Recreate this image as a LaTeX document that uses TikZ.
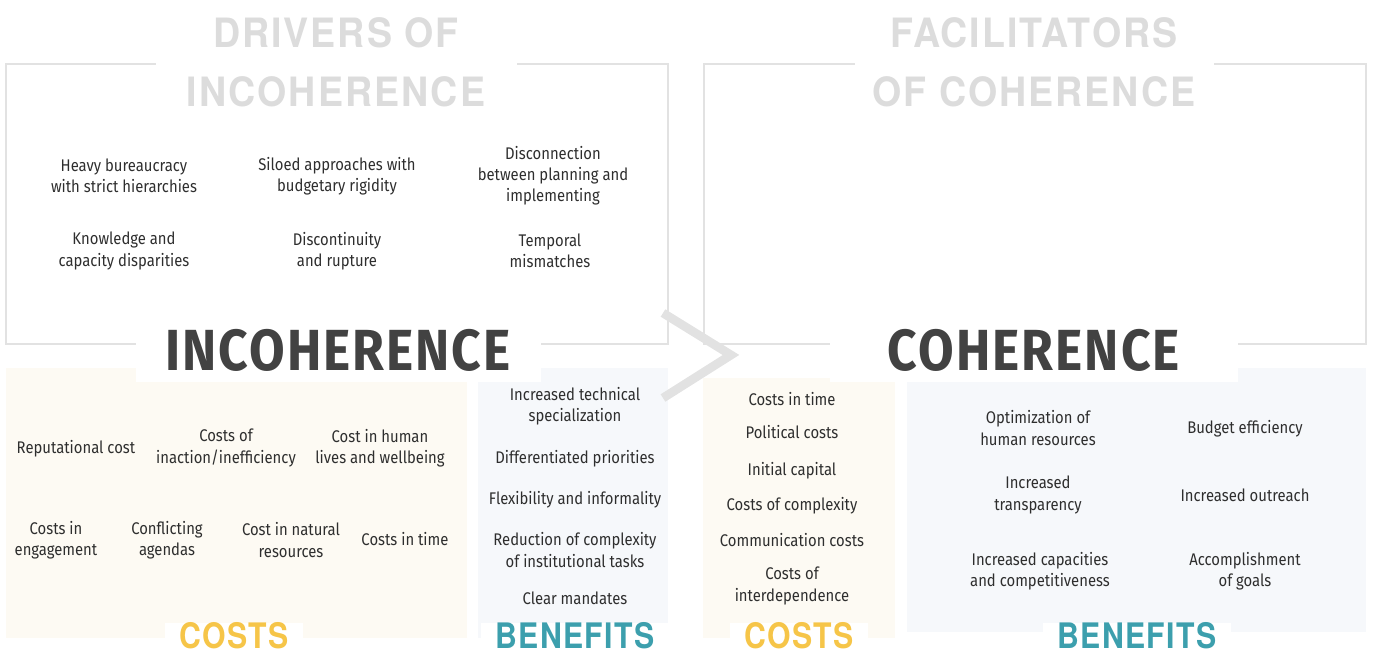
\documentclass[tikz,border=0pt]{standalone}
\usepackage{fontspec}
\usepackage{tikz}
\usetikzlibrary{positioning}
\setmainfont{Fira Sans}
\newfontfamily\bodyFont[FakeStretch=0.88]{Fira Sans}
\newfontfamily\mainFont[FakeStretch=0.89,LetterSpace=3.5]{Fira Sans}
\newfontfamily\headFont[FakeStretch=0.86,LetterSpace=4]{TeX Gyre Heros}
\newfontfamily\titleFont[FakeStretch=0.93,LetterSpace=5]{TeX Gyre Heros}
\definecolor{frameColor}{HTML}{E2E2E2}
\definecolor{headColor}{HTML}{DCDCDC}
\definecolor{mainColor}{HTML}{424242}
\definecolor{textColor}{HTML}{2E2E2E}
\definecolor{costFill}{HTML}{FDFAF3}
\definecolor{benefitFill}{HTML}{F6F8FB}
\definecolor{costColor}{HTML}{F6C548}
\definecolor{benefitColor}{HTML}{3C9FAD}

\begin{document}
\begin{tikzpicture}[x=0.02cm,y=-0.02cm]

            \tikzstyle{item} = [align=center, text=textColor, inner sep=0pt,
                                font=\bodyFont\fontsize{9.6}{12}\selectfont];
            \tikzstyle{frameLine} = [draw=frameColor, line width=1.1pt];
            \tikzstyle{heading} = [fill=white, text=headColor, align=center,
                                   font=\titleFont\bfseries\fontsize{23}{33.5}\selectfont];
            \tikzstyle{mainTitle} = [fill=white, text=mainColor, inner ysep=6pt,
                                     font=\mainFont\bfseries\fontsize{33}{33}\selectfont];
            \tikzstyle{panelLabel} = [fill=white, inner xsep=8pt, inner ysep=0pt,
                                      font=\headFont\bfseries\fontsize{20}{20}\selectfont];

            \useasboundingbox (0,0) rectangle (1373,655);

            \draw[frameLine] (6,64) rectangle (668,344);
            \draw[frameLine] (704,64) rectangle (1366,344);

            \fill[costFill] (6,368) rectangle (467,638);
            \fill[benefitFill] (478,368) rectangle (668,638);
            \fill[costFill] (703,378) rectangle (895,638);
            \fill[benefitFill] (907,368) rectangle (1366,632);

            \draw[frameColor, line width=5pt] (663,313) -- (731,355) -- (663,398);

            \node[heading, minimum width=361*0.02cm] (drivers) at (336,62) {DRIVERS OF\\INCOHERENCE};
            \node[heading, minimum width=359*0.02cm] (facilitators) at (1034,62) {FACILITATORS\\OF COHERENCE};

            \node[mainTitle, minimum width=405*0.02cm] (incoherence) at (338,350) {INCOHERENCE};
            \node[mainTitle, minimum width=408*0.02cm] (coherence) at (1034,350) {COHERENCE};

            \node[item] (bureaucracy) at (124,176) {Heavy bureaucracy\\with strict hierarchies};
            \node[item] (siloed) at (337,176) {Siloed approaches with\\budgetary rigidity};
            \node[item] (disconnection) at (553,176) {Disconnection\\between planning and\\implementing};
            \node[item] (knowledge) at (124,251) {Knowledge and\\capacity disparities};
            \node[item] (discontinuity) at (337,251) {Discontinuity\\and rupture};
            \node[item] (temporal) at (550,251) {Temporal\\mismatches};

            \node[item] (reputational) at (76,449) {Reputational cost};
            \node[item] (inaction) at (226,448) {Costs of\\inaction/inefficiency};
            \node[item] (humanLives) at (380,448) {Cost in human\\lives and wellbeing};
            \node[item] (engagement) at (56,540) {Costs in\\engagement};
            \node[item] (agendas) at (167,540) {Conflicting\\agendas};
            \node[item] (natural) at (291,540) {Cost in natural\\resources};
            \node[item] (timeLeft) at (405,539) {Costs in time};

            \node[item] (specialization) at (575,406) {Increased technical\\specialization};
            \node[item] (priorities) at (575,459) {Differentiated priorities};
            \node[item] (flexibility) at (575,500) {Flexibility and informality};
            \node[item] (reduction) at (575,550) {Reduction of complexity\\of institutional tasks};
            \node[item] (mandates) at (575,598) {Clear mandates};

            \node[item] (timeRight) at (792,399) {Costs in time};
            \node[item] (political) at (792,432) {Political costs};
            \node[item] (capital) at (792,471) {Initial capital};
            \node[item] (complexity) at (792,506) {Costs of complexity};
            \node[item] (communication) at (792,540) {Communication costs};
            \node[item] (interdependence) at (792,586) {Costs of\\interdependence};

            \node[item] (optimization) at (1038,428) {Optimization of\\human resources};
            \node[item] (budget) at (1245,429) {Budget efficiency};
            \node[item] (transparency) at (1038,495) {Increased\\transparency};
            \node[item] (outreach) at (1245,495) {Increased outreach};
            \node[item] (capacities) at (1040,571) {Increased capacities\\and competitiveness};
            \node[item] (goals) at (1245,571) {Accomplishment\\of goals};

            \node[panelLabel, text=costColor] (costsLeft) at (234,636) {COSTS};
            \node[panelLabel, text=benefitColor] (benefitsLeft) at (575,636) {BENEFITS};
            \node[panelLabel, text=costColor] (costsRight) at (799,636) {COSTS};
            \node[panelLabel, text=benefitColor] (benefitsRight) at (1137,636) {BENEFITS};
          \end{tikzpicture}
\end{document}
